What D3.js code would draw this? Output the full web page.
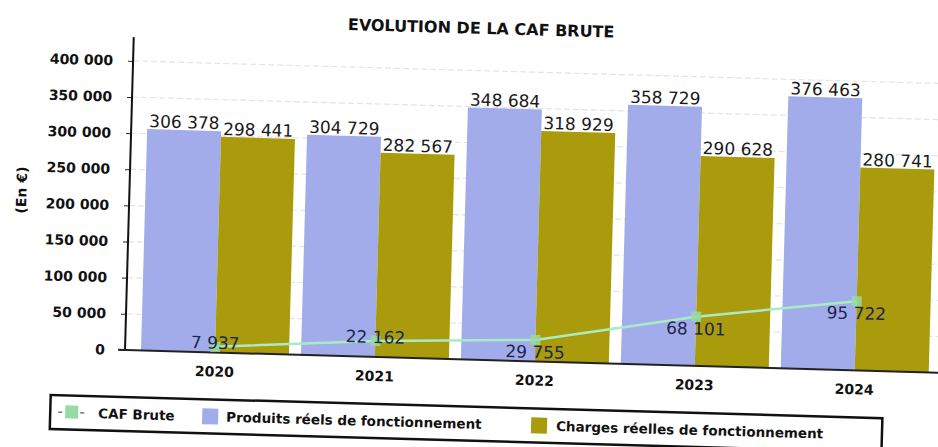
<!DOCTYPE html>
<html>
<head>
<meta charset="utf-8">
<script src="https://cdn.jsdelivr.net/npm/d3@7"></script>
<style>
  body { margin: 0; background: #fff; }
  text { font-family: "DejaVu Sans", sans-serif; }
  .bold { font-weight: bold; }
</style>
</head>
<body>
<div id="chart"></div>
<script>
// Data
const years = ['2020', '2021', '2022', '2023', '2024'];
const produits = [306378, 304729, 348684, 358729, 376463];
const charges = [298441, 282567, 318929, 290628, 280741];
const cafBrute = [7937, 22162, 29755, 68101, 95722];
const yTicks = [0, 50000, 100000, 150000, 200000, 250000, 300000, 350000, 400000];

const width = 938,
      height = 447;

const colProduits = '#a3acea',
      colCharges = '#a99b0b',
      colCaf = '#a8ecc4',
      colCafMarker = '#96dca2';

// thousands with a space
const fmt = function (v) {
  return d3.format(',')(v).replace(/,/g, ' ');
};

var svg = d3.select('#chart')
            .append('svg')
            .attr('width', width)
            .attr('height', height);

// the scanned chart is slightly tilted
var root = svg.append('g')
              .attr('transform', 'rotate(1.6, 125, 350)');

var x = d3.scaleBand()
          .domain(years)
          .range([125, 945])
          .paddingInner(0.075)
          .paddingOuter(0.1);

var x1 = d3.scaleBand()
           .domain(['produits', 'charges'])
           .range([0, x.bandwidth()]);

var y = d3.scaleLinear()
          .domain([0, 433000])
          .range([350, 37]);

//Title
root.append('text')
    .attr('class', 'bold')
    .attr('x', 472)
    .attr('y', 24)
    .style('text-anchor', 'middle')
    .style('font-size', '16px')
    .style('fill', '#111')
    .text('EVOLUTION DE LA CAF BRUTE');

//Y label
root.append('text')
    .attr('class', 'bold')
    .attr('transform', 'translate(22, 193) rotate(-90)')
    .style('text-anchor', 'middle')
    .style('font-size', '14px')
    .style('fill', '#111')
    .text('(En €)');

//Grid lines
root.append('g')
    .selectAll('line')
    .data(yTicks.slice(1))
    .enter()
    .append('line')
    .attr('x1', 125)
    .attr('x2', 960)
    .attr('y1', function (d) { return y(d); })
    .attr('y2', function (d) { return y(d); })
    .attr('stroke', '#e4e4e4')
    .attr('stroke-width', 1.2)
    .attr('stroke-dasharray', '6,3');

//Bars
var groups = root.append('g')
                 .selectAll('g')
                 .data(years)
                 .enter()
                 .append('g')
                 .attr('transform', function (d) { return 'translate(' + x(d) + ',0)'; });

groups.append('rect')
      .attr('x', x1('produits'))
      .attr('width', x1.bandwidth())
      .attr('y', function (d, i) { return y(produits[i]); })
      .attr('height', function (d, i) { return y(0) - y(produits[i]); })
      .attr('fill', colProduits);

groups.append('rect')
      .attr('x', x1('charges'))
      .attr('width', x1.bandwidth())
      .attr('y', function (d, i) { return y(charges[i]); })
      .attr('height', function (d, i) { return y(0) - y(charges[i]); })
      .attr('fill', colCharges);

groups.append('text')
      .attr('x', x1('produits') + x1.bandwidth() / 2)
      .attr('y', function (d, i) { return y(produits[i]) - 2; })
      .style('text-anchor', 'middle')
      .style('font-size', '17px')
      .style('fill', '#1a1a1a')
      .text(function (d, i) { return fmt(produits[i]); });

groups.append('text')
      .attr('x', x1('charges') + x1.bandwidth() / 2)
      .attr('y', function (d, i) { return y(charges[i]) - 2; })
      .style('text-anchor', 'middle')
      .style('font-size', '17px')
      .style('fill', '#1a1a1a')
      .text(function (d, i) { return fmt(charges[i]); });

//Axes
var yAxis = root.append('g')
                .attr('transform', 'translate(125,0)')
                .call(d3.axisLeft(y)
                        .tickValues(yTicks)
                        .tickSize(5)
                        .tickPadding(15)
                        .tickFormat(fmt));
yAxis.select('.domain').remove();
yAxis.selectAll('text')
     .attr('class', 'bold')
     .style('font-family', '"DejaVu Sans", sans-serif')
     .style('font-size', '14px')
     .style('fill', '#111');
yAxis.selectAll('line').attr('stroke', '#222');

root.append('line')
    .attr('x1', 125).attr('x2', 125)
    .attr('y1', y(0)).attr('y2', y.range()[1])
    .attr('stroke', '#111')
    .attr('stroke-width', 2);

var xAxis = root.append('g')
                .attr('transform', 'translate(0,' + y(0) + ')')
                .call(d3.axisBottom(x).tickSize(0).tickPadding(14));
xAxis.select('.domain').remove();
xAxis.selectAll('text')
     .attr('class', 'bold')
     .style('font-family', '"DejaVu Sans", sans-serif')
     .style('font-size', '14px')
     .style('fill', '#111');

root.append('line')
    .attr('x1', 118).attr('x2', 960)
    .attr('y1', y(0)).attr('y2', y(0))
    .attr('stroke', '#222')
    .attr('stroke-width', 2);

//CAF Brute line
var cx = function (d, i) { return x(years[i]) + x.bandwidth() / 2; };

root.append('path')
    .datum(cafBrute)
    .attr('fill', 'none')
    .attr('stroke', colCaf)
    .attr('stroke-width', 2.5)
    .attr('d', d3.line().x(cx).y(function (d) { return y(d); }));

root.append('g')
    .selectAll('rect')
    .data(cafBrute)
    .enter()
    .append('rect')
    .attr('x', function (d, i) { return cx(d, i) - 5; })
    .attr('y', function (d) { return y(d) - 5; })
    .attr('width', 10)
    .attr('height', 10)
    .attr('fill', colCafMarker)
    .attr('opacity', 0.85);

root.append('g')
    .selectAll('text')
    .data(cafBrute)
    .enter()
    .append('text')
    .attr('x', function (d, i) { return cx(d, i); })
    .attr('y', function (d) {
      // too close to the baseline: put the label above the point
      return y(d) + 18 > y(0) ? y(d) + 2 : y(d) + 18;
    })
    .style('text-anchor', 'middle')
    .style('font-size', '17px')
    .style('fill', '#1c2550')
    .text(function (d) { return fmt(d); });

//Legend
var legend = root.append('g')
                 .attr('transform', 'translate(52, 397)');

legend.append('rect')
      .attr('width', 832)
      .attr('height', 34)
      .attr('fill', '#fff')
      .attr('stroke', '#111')
      .attr('stroke-width', 2.5);

legend.append('line')
      .attr('x1', 8).attr('x2', 34)
      .attr('y1', 17).attr('y2', 17)
      .attr('stroke', '#777')
      .attr('stroke-width', 1.5)
      .attr('stroke-dasharray', '4,18');
legend.append('rect')
      .attr('x', 15).attr('y', 10)
      .attr('width', 13).attr('height', 13)
      .attr('fill', colCafMarker);

legend.append('rect')
      .attr('x', 152).attr('y', 9)
      .attr('width', 16).attr('height', 16)
      .attr('fill', colProduits);

legend.append('rect')
      .attr('x', 481).attr('y', 9)
      .attr('width', 16).attr('height', 16)
      .attr('fill', colCharges);

var legendItems = [
  { label: 'CAF Brute', x: 48 },
  { label: 'Produits réels de fonctionnement', x: 176 },
  { label: 'Charges réelles de fonctionnement', x: 506 }
];

legend.selectAll('text.item')
      .data(legendItems)
      .enter()
      .append('text')
      .attr('class', 'bold item')
      .attr('x', function (d) { return d.x; })
      .attr('y', 22)
      .style('font-size', '13.5px')
      .style('fill', '#111')
      .text(function (d) { return d.label; });
</script>
</body>
</html>
